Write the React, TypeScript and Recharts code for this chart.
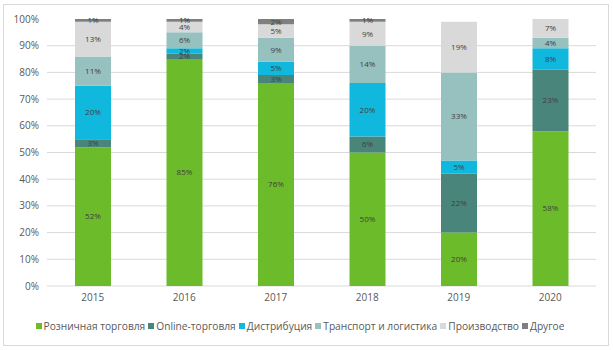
import { BarChart, Bar, XAxis, YAxis, CartesianGrid, Legend, LabelList } from 'recharts'

const years = ['2015', '2016', '2017', '2018', '2019', '2020']
const retail = [52, 85, 76, 50, 20, 58]
const online = [3, 2, 3, 6, 22, 23]
const distribution = [20, 2, 5, 20, 5, 8]
const transport = [11, 6, 9, 14, 33, 4]
const production = [13, 4, 5, 9, 19, 7]
const other = [1, 1, 2, 1, 0, 0]
const yTicks = [0, 10, 20, 30, 40, 50, 60, 70, 80, 90, 100]
const gridValues = [0, 10, 20, 30, 40, 50, 60, 70, 80, 90]

const series = [
  { key: 'retail', name: 'Розничная торговля', color: '#6cbb2a', values: retail },
  { key: 'online', name: 'Online-торговля', color: '#4a857c', values: online },
  { key: 'distribution', name: 'Дистрибуция', color: '#0fb8dc', values: distribution },
  { key: 'transport', name: 'Транспорт и логистика', color: '#96c1bf', values: transport },
  { key: 'production', name: 'Производство', color: '#d9d9d9', values: production },
  { key: 'other', name: 'Другое', color: '#7f7f7f', values: other },
]

const data = years.map((year, i) => {
  const row: Record<string, string | number> = { year }
  series.forEach(s => { row[s.key] = s.values[i] })
  return row
})

const font = '"Open Sans", "Noto Sans", sans-serif'

function LegendContent() {
  return (
    <div style={{ display: 'flex', justifyContent: 'center', fontFamily: font, fontSize: 10.2, color: '#595959', paddingTop: 13 }}>
      {series.map(s => (
        <span key={s.key} style={{ display: 'inline-flex', alignItems: 'center', marginRight: 3 }}>
          <span style={{ width: 6, height: 6, background: s.color, display: 'inline-block', marginRight: 2 }} />
          {s.name}
        </span>
      ))}
    </div>
  )
}

export default function App() {
  return (
    <div style={{ position: 'absolute', left: 0, top: 0, width: 613, height: 350, background: '#fff' }}>
      <div style={{ position: 'absolute', left: 3, top: 4, width: 606, height: 342, border: '1px solid #d9d9d9', boxSizing: 'border-box' }} />
      <BarChart width={613} height={350} data={data} margin={{ top: 19, right: 17, bottom: 14, left: 7 }} barCategoryGap="0%">
        <CartesianGrid vertical={false} stroke="#d9d9d9" horizontalValues={gridValues} />
        <XAxis dataKey="year" axisLine={false} tickLine={false} height={20} tick={{ fontSize: 10, fill: '#595959', fontFamily: font }} />
        <YAxis domain={[0, 100]} ticks={yTicks} axisLine={false} tickLine={false} width={40} interval={0}
          tickFormatter={(v: number) => `${v}%`} tick={{ fontSize: 10, fill: '#595959', fontFamily: font }} />
        <Legend verticalAlign="bottom" height={30} content={<LegendContent />} />
        {series.map(s => (
          <Bar key={s.key} dataKey={s.key} name={s.name} stackId="a" fill={s.color} barSize={36} isAnimationActive={false}>
            <LabelList dataKey={s.key} position="center" fontSize={8} fill="#404040" fontFamily={font}
              formatter={(v: any) => (v ? `${v}%` : '')} />
          </Bar>
        ))}
      </BarChart>
    </div>
  )
}
